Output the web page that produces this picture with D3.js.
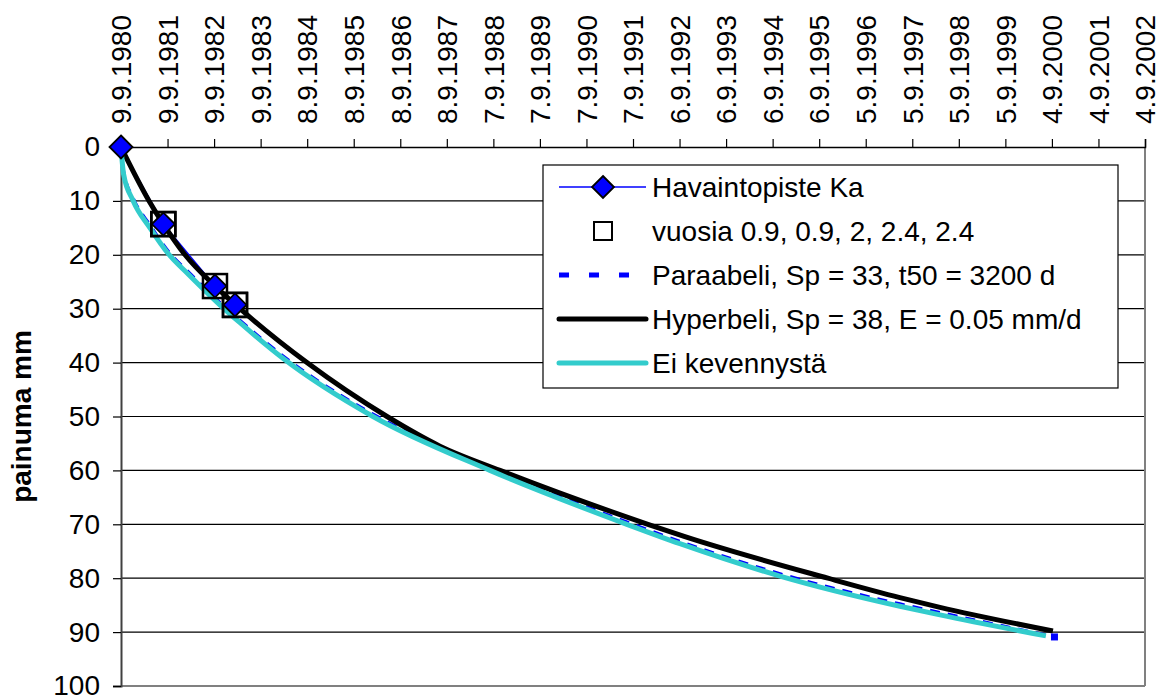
<!DOCTYPE html>
<html><head><meta charset="utf-8">
<script src="https://cdn.jsdelivr.net/npm/d3@7"></script>
<style>
body{margin:0;background:#fff;}
svg{display:block;font-family:"Liberation Sans",Arial,sans-serif;}
</style></head>
<body><svg id="chart" width="1160" height="697"></svg>
<script>
// ---- data (x = days from 9.9.1980, y = painuma mm) ----
const tickLabels = ["9.9.1980","9.9.1981","9.9.1982","9.9.1983","8.9.1984","8.9.1985","8.9.1986","8.9.1987","7.9.1988","7.9.1989","7.9.1990","7.9.1991","6.9.1992","6.9.1993","6.9.1994","6.9.1995","5.9.1996","5.9.1997","5.9.1998","5.9.1999","4.9.2000","4.9.2001","4.9.2002"];
const tickDays = [0,365,730,1095,1460,1825,2190,2555,2920,3285,3650,4015,4380,4745,5110,5475,5840,6205,6570,6935,7300,7665,8030];
const yTicks = [0,10,20,30,40,50,60,70,80,90,100];

const obsDays = [0,332,737,894];
const obsVals = [0,14.3,25.8,29.3];

const yearDays = [332,332,737,894,894];
const yearVals = [14.3,14.3,25.8,29.3,29.3];

const paraDays = [0,20,96,227,371,528,790,933,1270,1976,2893,3967,4383,5167,6108,6422,7320];
const paraVals = [0,4.6,9.6,14.5,19.4,23.2,29.2,32.2,38.8,49.6,59.6,69.6,73.2,79.2,84.8,86.4,90.9];

const hypDays = [0,220,332,502,737,933,1458,2086,2501,2972,4132,4422,5543,6108,6422,7308];
const hypVals = [0,10,14.3,20,25.8,30,40,50,55.5,60,70,72.3,80,83.6,85.4,89.8];

const eiDays = [0,20,96,227,371,528,790,933,1270,1976,2893,3967,4383,5167,6108,6422,7253];
const eiVals = [0,5,10,15,19.8,23.6,29.6,32.6,39.2,50,60,70,73.6,79.6,85.2,86.8,90.7];

const legendLabels = ["Havaintopiste Ka","vuosia 0.9, 0.9, 2, 2.4, 2.4","Paraabeli, Sp = 33, t50 = 3200 d","Hyperbeli, Sp = 38, E = 0.05 mm/d","Ei kevennystä"];

// ---- drawing ----
const svg = d3.select("#chart");
const L=121, T=147, R=1145, B=686;
const FS = 28;
const x = d3.scaleLinear().domain([0,8030]).range([L,R]);
const y = d3.scaleLinear().domain([0,100]).range([T,B]);
const zip = (a,b)=>a.map((d,i)=>[d,b[i]]);
const line = d3.line().x(d=>x(d[0])).y(d=>y(d[1]));
const curve = d3.line().x(d=>x(d[0])).y(d=>y(d[1])).curve(d3.curveMonotoneX);

// gridlines
svg.append("g").selectAll("line").data(yTicks.filter(v=>v>0&&v<100)).join("line")
  .attr("x1",L).attr("x2",R).attr("y1",d=>y(d)).attr("y2",d=>y(d))
  .attr("stroke","#000").attr("stroke-width",1.2);

// plot border right/bottom
svg.append("line").attr("x1",R).attr("x2",R).attr("y1",T).attr("y2",B).attr("stroke","#808080").attr("stroke-width",2);
svg.append("line").attr("x1",L).attr("x2",R).attr("y1",B).attr("y2",B).attr("stroke","#808080").attr("stroke-width",2);

// top axis
const xAxis = d3.axisTop(x).tickValues(tickDays).tickSize(8).tickFormat((d,i)=>tickLabels[i]);
const gx = svg.append("g").attr("transform",`translate(0,${T})`).call(xAxis);
gx.select(".domain").attr("stroke","#000").attr("stroke-width",1.5);
gx.selectAll(".tick line").attr("stroke","#000").attr("stroke-width",1.2);
gx.selectAll(".tick text").attr("font-size",FS).attr("fill","#000")
  .attr("font-family","'Liberation Sans',Arial,sans-serif")
  .attr("transform","rotate(-90)").attr("text-anchor","start")
  .attr("x",23).attr("y",0).attr("dy","0.35em");

// left axis
const yAxis = d3.axisLeft(y).tickValues(yTicks).tickSize(8).tickPadding(13);
const gy = svg.append("g").attr("transform",`translate(${L},0)`).call(yAxis);
gy.select(".domain").attr("stroke","#404040").attr("stroke-width",2);
gy.selectAll(".tick line").attr("stroke","#000").attr("stroke-width",1.2);
gy.selectAll(".tick text").attr("font-size",FS).attr("fill","#000")
  .attr("font-family","'Liberation Sans',Arial,sans-serif");

// y label
svg.append("text").attr("transform",`translate(31,${(T+B)/2}) rotate(-90)`)
  .attr("text-anchor","middle").attr("font-size",FS).attr("font-weight","bold").text("painuma mm");

// series lines
svg.append("path").datum(zip(obsDays,obsVals)).attr("d",line).attr("fill","none").attr("stroke","#0000FF").attr("stroke-width",1.5);
svg.append("path").datum(zip(paraDays,paraVals)).attr("d",curve).attr("fill","none").attr("stroke","#0000FF").attr("stroke-width",3.5).attr("stroke-dasharray","10,8");
svg.append("path").datum(zip(hypDays,hypVals)).attr("d",curve).attr("fill","none").attr("stroke","#000").attr("stroke-width",5);
svg.append("path").datum(zip(eiDays,eiVals)).attr("d",curve).attr("fill","none").attr("stroke","#33CCCC").attr("stroke-width",5);

// end marker of parabola
const pl = paraDays.length-1;
svg.append("rect").attr("x",x(paraDays[pl])-3.5).attr("y",y(paraVals[pl])-3.5).attr("width",7).attr("height",7).attr("fill","#0000FF");

// squares
svg.append("g").selectAll("rect").data(zip(yearDays,yearVals)).join("rect")
  .attr("x",d=>x(d[0])-12).attr("y",d=>y(d[1])-12).attr("width",24).attr("height",24)
  .attr("fill","none").attr("stroke","#000").attr("stroke-width",2.5);

// diamonds
const diamond = (cx,cy,r)=>`M${cx},${cy-r}L${cx+r},${cy}L${cx},${cy+r}L${cx-r},${cy}Z`;
svg.append("g").selectAll("path").data(zip(obsDays,obsVals)).join("path")
  .attr("d",d=>diamond(x(d[0]),y(d[1]),11.5)).attr("fill","#0000FF").attr("stroke","#000").attr("stroke-width",1.8);

// legend
const lg = svg.append("g");
lg.append("rect").attr("x",543).attr("y",165).attr("width",575).attr("height",223).attr("fill","#fff").attr("stroke","#000").attr("stroke-width",1.2);
const rowY = i=>187+i*44;
legendLabels.forEach((t,i)=>{
  lg.append("text").attr("x",652).attr("y",rowY(i)).attr("dy","0.35em").attr("font-size",FS).text(t);
});
// row 0
lg.append("line").attr("x1",559).attr("x2",646).attr("y1",rowY(0)).attr("y2",rowY(0)).attr("stroke","#0000FF").attr("stroke-width",1.5);
lg.append("path").attr("d",diamond(603,rowY(0),11)).attr("fill","#0000FF").attr("stroke","#000").attr("stroke-width",1.8);
// row 1
lg.append("rect").attr("x",594).attr("y",rowY(1)-9).attr("width",18).attr("height",18).attr("fill","none").attr("stroke","#000").attr("stroke-width",2);
// row 2
lg.append("line").attr("x1",559).attr("x2",646).attr("y1",rowY(2)).attr("y2",rowY(2)).attr("stroke","#0000FF").attr("stroke-width",5).attr("stroke-dasharray","10,20");
// row 3
lg.append("line").attr("x1",559).attr("x2",646).attr("y1",rowY(3)).attr("y2",rowY(3)).attr("stroke","#000").attr("stroke-width",5).attr("stroke-linecap","round");
// row 4
lg.append("line").attr("x1",559).attr("x2",646).attr("y1",rowY(4)).attr("y2",rowY(4)).attr("stroke","#33CCCC").attr("stroke-width",5).attr("stroke-linecap","round");
</script></body></html>
